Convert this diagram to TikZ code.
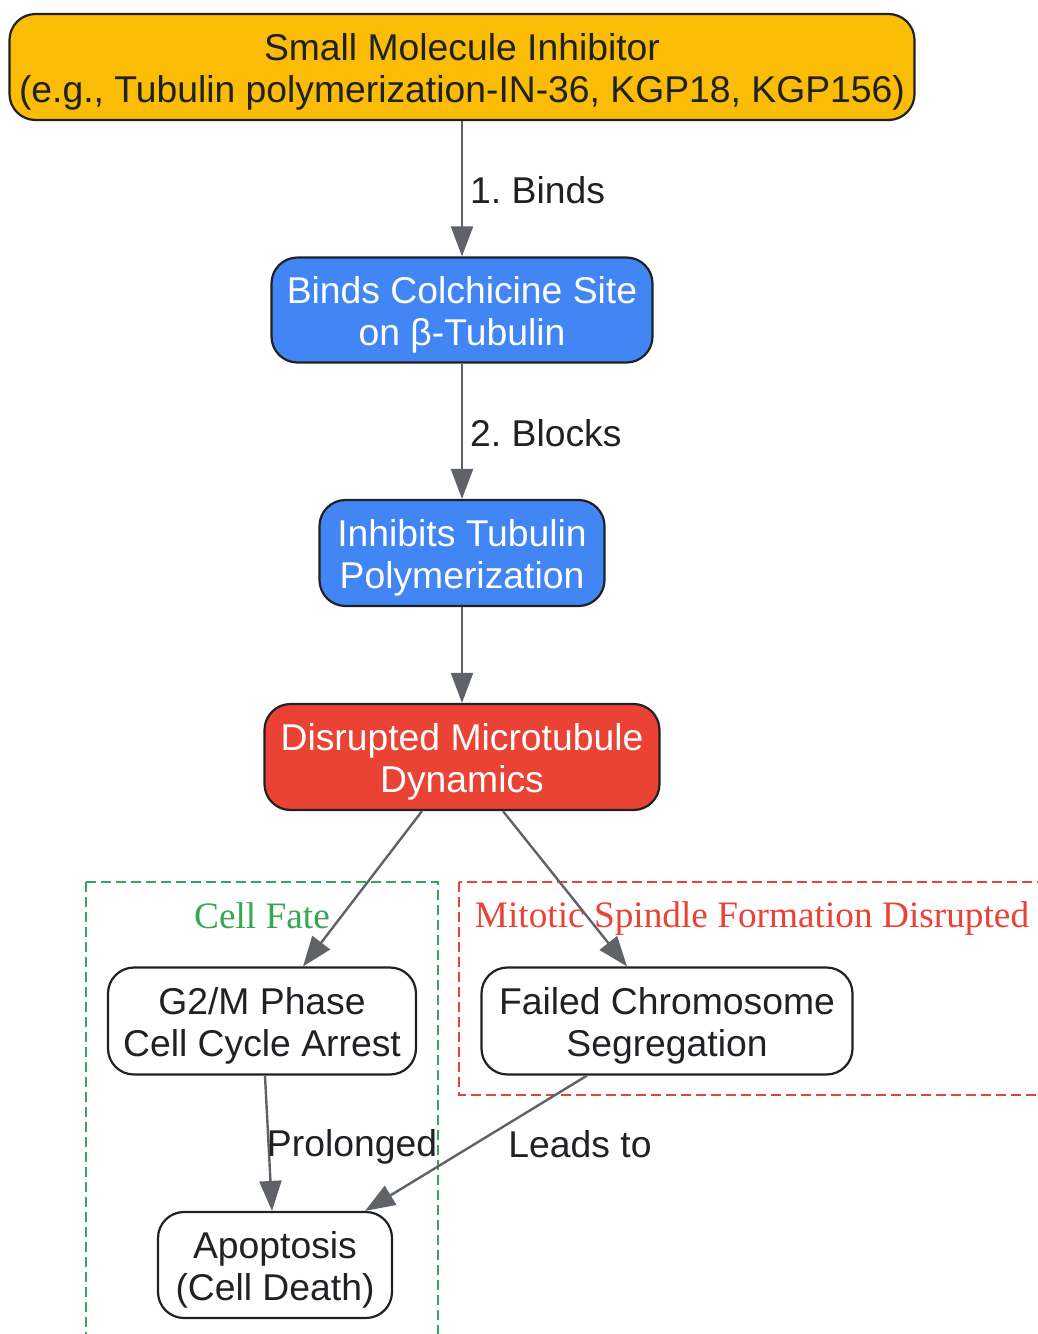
\documentclass[tikz,border=0pt]{standalone}
\usepackage{fontspec}
\setmainfont{Liberation Sans}
\newfontfamily\clusterfont{Liberation Serif}
\usetikzlibrary{arrows.meta}
\definecolor{gyellow}{HTML}{FBBC05}
\definecolor{gblue}{HTML}{4285F4}
\definecolor{gred}{HTML}{EA4335}
\definecolor{ggreen}{HTML}{34A853}
\definecolor{edgegray}{HTML}{5F6368}
\definecolor{ink}{HTML}{202124}
\newcommand\toprule{\rule{0pt}{36pt}}
\frenchspacing
\tikzset{
  box/.style={draw=ink, line width=2.2pt, rounded corners=26pt, align=center,
    inner sep=0pt, text=ink},
  conn/.style={draw=edgegray, line width=2.4pt, -{Triangle[length=30pt,width=22pt]}},
  elabel/.style={text=ink, inner sep=0pt},
  cluster/.style={line width=2.4pt, dash pattern=on 10pt off 5pt},
  clabel/.style={font=\clusterfont\fontsize{37.3}{42}\selectfont, inner sep=0pt}
}
\begin{document}
\begin{tikzpicture}[x=1pt,y=-1pt, font=\fontsize{37.3}{42}\selectfont]
\useasboundingbox[fill=white] (0,0) rectangle (1038,1334);

% clusters
\draw[cluster, ggreen] (86,882) rectangle (438,1345);
\node[clabel, text=ggreen] (cfl) at (262,916) {Cell Fate};
\draw[cluster, gred] (459,882) rectangle (1050,1095);
\node[clabel, text=gred] (msl) at (752,919) {Mitotic Spindle Formation Disrupted};

% nodes
\node[box, fill=gyellow, minimum width=905pt, minimum height=106pt] (top) at (462,67)
  {\toprule Small Molecule Inhibitor\\(e.g., Tubulin polymerization-IN-36, KGP18, KGP156)};
\node[box, fill=gblue, text=white, minimum width=381pt, minimum height=105pt] (bind) at (462,310)
  {\toprule Binds Colchicine Site\\on β-Tubulin};
\node[box, fill=gblue, text=white, minimum width=285pt, minimum height=106pt] (inh) at (462,553)
  {\toprule Inhibits Tubulin\\Polymerization};
\node[box, fill=gred, text=white, minimum width=395pt, minimum height=106pt] (dis) at (462,757)
  {\toprule Disrupted Microtubule\\Dynamics};
\node[box, fill=white, minimum width=308pt, minimum height=107pt] (g2m) at (262,1021)
  {\toprule G2/M Phase\\Cell Cycle Arrest};
\node[box, fill=white, minimum width=371pt, minimum height=107pt] (fail) at (667,1021)
  {\toprule Failed Chromosome\\Segregation};
\node[box, fill=white, minimum width=234pt, minimum height=106pt] (apo) at (275,1265)
  {\toprule Apoptosis\\(Cell Death)};

% connectors
\draw[conn] (top.south) -- (bind.north);
\node[elabel, anchor=west] (l1) at (470,190) {1. Binds};
\draw[conn] (bind.south) -- (inh.north);
\node[elabel, anchor=west] (l2) at (470,433) {2. Blocks};
\draw[conn] (inh.south) -- (dis.north);
\draw[conn] ([xshift=-40pt]dis.south) -- ([xshift=41pt]g2m.north);
\draw[conn] ([xshift=41pt]dis.south) -- ([xshift=-40pt]fail.north);
\draw[conn] ([xshift=3pt]g2m.south) -- ([xshift=-3pt]apo.north);
\node[elabel] (l3) at (352,1147) {Prolonged};
\draw[conn] ([xshift=-80pt]fail.south) -- ([xshift=90pt]apo.north);
\node[elabel] (l4) at (580,1144) {Leads to};
\end{tikzpicture}
\end{document}
